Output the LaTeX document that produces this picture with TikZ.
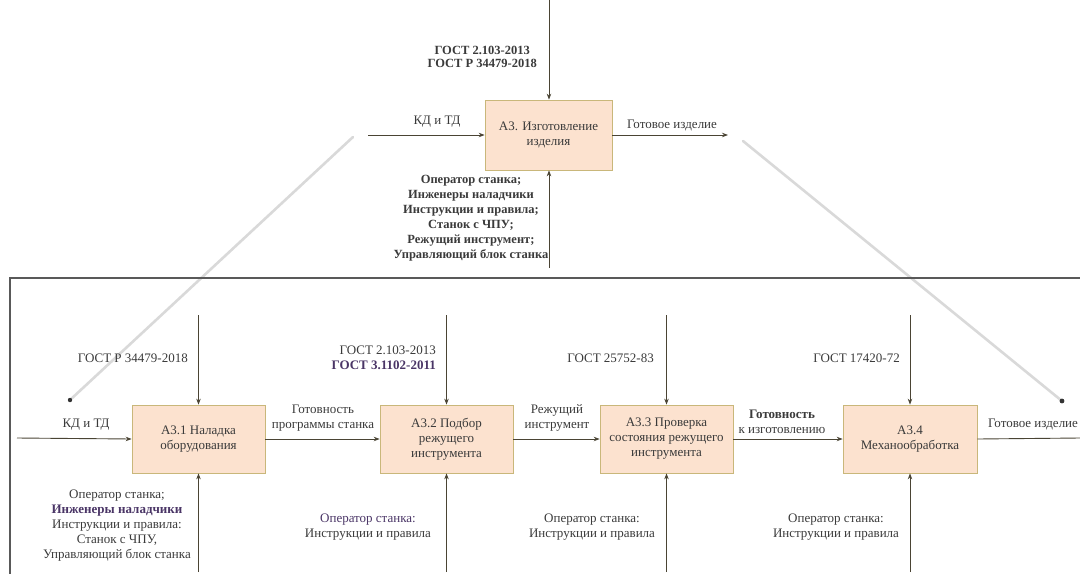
\documentclass[tikz,border=0pt]{standalone}
\usepackage{fontspec}
\setmainfont{Liberation Serif}
\usetikzlibrary{arrows.meta,positioning}
\definecolor{linec}{HTML}{4A4434}
\definecolor{txtc}{HTML}{3A3A3A}
\definecolor{purp}{HTML}{4A3566}
\definecolor{boxfill}{HTML}{FCE2CF}
\definecolor{boxline}{HTML}{C9B77A}
\tikzset{
  func/.style={draw=boxline, line width=0.7pt, fill=boxfill, align=center,
    text=txtc, font=\fontsize{13}{15}\selectfont, inner sep=2pt},
  flow/.style={draw=linec, line width=0.9pt, -{Stealth[length=6pt,width=4.5pt]}},
  lbl/.style={text=txtc, align=center, font=\fontsize{13}{15}\selectfont, inner sep=1pt},
  ghost/.style={draw=gray!30, line width=2.6pt, line cap=round},
  frame/.style={draw=gray!70!black, line width=1.3pt}
}
\begin{document}
\begin{tikzpicture}[x=1pt,y=-1pt]
\useasboundingbox (0,0) rectangle (1080,574);

% context diagram: A3
\node[func, minimum width=127pt, minimum height=70pt] (A3) at (548.5,135)
  {А3. Изготовление\\изделия};
\coordinate (A3c) at (549,0);
\coordinate (A3i) at (368,135);
\coordinate (A3o) at (728,135);
\coordinate (A3m) at (549,268);
\draw[flow] (A3c) -- (A3c |- A3.north);
\draw[flow] (A3i) -- (A3.west);
\draw[flow] (A3.east) -- (A3o);
\draw[flow] (A3m) -- (A3m |- A3.south);
\node[lbl, font=\bfseries\fontsize{12.5}{13.5}\selectfont, anchor=east] (A3ct) at (538,57)
  {ГОСТ 2.103-2013\\ГОСТ Р 34479-2018};
\node[lbl, anchor=south] (A3it) at (437,128) {КД и ТД};
\node[lbl, anchor=south] (A3ot) at (672,132) {Готовое изделие};
\node[lbl, font=\bfseries\fontsize{12.5}{15}\selectfont, anchor=north] (A3mt) at (471,174)
  {Оператор станка;\\Инженеры наладчики\\Инструкции и правила;\\Станок с ЧПУ;\\Режущий инструмент;\\Управляющий блок станка};

% decomposition guide lines
\coordinate (gl1) at (353,137);
\coordinate (gl2) at (70,400);
\coordinate (gr1) at (743,141);
\coordinate (gr2) at (1062,401);
\draw[ghost] (gl1) -- (gl2);
\draw[ghost] (gr1) -- (gr2);
\fill[black!80] (gl2) circle (2.2pt);
\fill[black!80] (gr2) circle (2.4pt);

% decomposition frame
\coordinate (fr1) at (1080,278);
\coordinate (fr2) at (10,278);
\coordinate (fr3) at (10,574);
\draw[frame] (fr1) -- (fr2) -- (fr3);

% child functions
\node[func, minimum width=133pt, minimum height=68pt] (B1) at (198.5,439)
  {А3.1 Наладка\\оборудования};
\node[func, minimum width=133pt, minimum height=68pt] (B2) at (446.5,439)
  {А3.2 Подбор\\режущего\\инструмента};
\node[func, minimum width=133pt, minimum height=68pt] (B3) at (666.5,439)
  {А3.3 Проверка\\состояния режущего\\инструмента};
\node[func, minimum width=134pt, minimum height=68pt] (B4) at (910,439)
  {А3.4\\Механообработка};

% inputs and outputs
\coordinate (Bin) at (17,438);
\coordinate (Bout) at (1080,438);
\draw[flow] (Bin) -- (B1.west);
\draw[flow] (B1.east) -- (B2.west);
\draw[flow] (B2.east) -- (B3.west);
\draw[flow] (B3.east) -- (B4.west);
\draw[draw=linec, line width=0.9pt] (B4.east) -- (Bout);
\node[lbl, anchor=south] (t0) at (86,431) {КД и ТД};
\node[lbl, anchor=south] (t1) at (323,432) {Готовность\\программы станка};
\node[lbl, anchor=south] (t2) at (557,432) {Режущий\\инструмент};
\node[lbl, anchor=south] (t3) at (782,435) {\textbf{Готовность}\\к изготовлению};
\node[lbl, anchor=south] (t4) at (1033,431) {Готовое изделие};

% controls
\foreach \b/\x in {B1/198.5, B2/446.5, B3/666.5, B4/910} {
  \coordinate (\b c) at (\x,315);
  \draw[flow] (\b c) -- (\b c |- \b.north);
  \coordinate (\b m) at (\x,572);
  \draw[flow] (\b m) -- (\b m |- \b.south);
}
\node[lbl, anchor=east] (c1) at (189,358) {ГОСТ Р 34479-2018};
\node[lbl, anchor=east, align=right] (c2) at (437,358)
  {ГОСТ 2.103-2013\\\textcolor{purp}{\textbf{ГОСТ 3.1102-2011}}};
\node[lbl, anchor=east] (c3) at (655,358) {ГОСТ 25752-83};
\node[lbl, anchor=east] (c4) at (901,358) {ГОСТ 17420-72};

% mechanisms
\node[lbl, anchor=north] (m1) at (117,489)
  {Оператор станка;\\\textcolor{purp}{\textbf{Инженеры наладчики}}\\Инструкции и правила:\\Станок с ЧПУ,\\Управляющий блок станка};
\node[lbl, anchor=north] (m2) at (368,513) {\textcolor{purp}{Оператор станка:}\\Инструкции и правила};
\node[lbl, anchor=north] (m3) at (592,513) {Оператор станка:\\Инструкции и правила};
\node[lbl, anchor=north] (m4) at (836,513) {Оператор станка:\\Инструкции и правила};
\end{tikzpicture}
\end{document}
